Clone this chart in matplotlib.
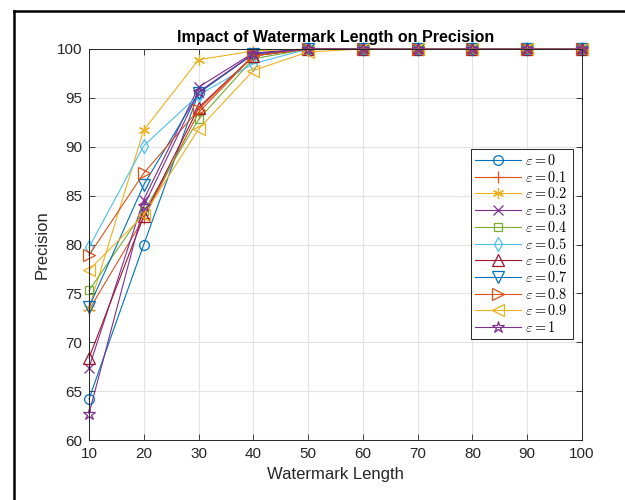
import matplotlib
matplotlib.use("Agg")
import matplotlib.pyplot as plt
from matplotlib.lines import Line2D

plt.rcParams['font.family'] = ['Liberation Sans', 'DejaVu Sans']
plt.rcParams['mathtext.fontset'] = 'cm'

lengths = [10, 20, 30, 40, 50, 60, 70, 80, 90, 100]
eps_labels = ['0', '0.1', '0.2', '0.3', '0.4', '0.5', '0.6', '0.7', '0.8', '0.9', '1']
p_eps0 = [64.2, 80.0, 95.5, 99.5, 100, 100, 100, 100, 100, 100]
p_eps01 = [73.3, 82.7, 93.5, 99.3, 100, 100, 100, 100, 100, 100]
p_eps02 = [73.5, 91.7, 98.9, 99.8, 100, 100, 100, 100, 100, 100]
p_eps03 = [67.4, 84.6, 96.1, 99.6, 100, 100, 100, 100, 100, 100]
p_eps04 = [75.3, 83.4, 92.8, 99.0, 100, 100, 100, 100, 100, 100]
p_eps05 = [79.7, 90.1, 95.3, 98.5, 100, 100, 100, 100, 100, 100]
p_eps06 = [68.4, 82.9, 94.0, 99.3, 100, 100, 100, 100, 100, 100]
p_eps07 = [73.6, 86.1, 95.5, 99.5, 100, 100, 100, 100, 100, 100]
p_eps08 = [78.9, 87.3, 93.8, 99.3, 100, 100, 100, 100, 100, 100]
p_eps09 = [77.4, 83.0, 91.8, 97.8, 99.7, 100, 100, 100, 100, 100]
p_eps1 = [62.7, 83.9, 95.6, 99.5, 100, 100, 100, 100, 100, 100]
series = [p_eps0, p_eps01, p_eps02, p_eps03, p_eps04, p_eps05,
          p_eps06, p_eps07, p_eps08, p_eps09, p_eps1]

colors = ['#0072BD', '#D95319', '#EDB120', '#7E2F8E', '#77AC30', '#4DBEEE',
          '#A2142F', '#0072BD', '#D95319', '#EDB120', '#7E2F8E']
markers = ['o', '+', (6, 2, 0), 'x', 's', 'd', '^', 'v', '>', '<', '*']
msizes = [7, 8, 8, 7, 6, 7, 8, 8, 8, 8, 9]

fig = plt.figure(figsize=(6.25, 5), dpi=100)
ax = fig.add_axes([0.1424, 0.12, 0.7888, 0.782])

for vals, c, m, ms, lab in zip(series, colors, markers, msizes, eps_labels):
    ax.plot(lengths, vals, color=c, marker=m, markersize=ms, linewidth=0.8,
            markerfacecolor='none', markeredgecolor=c, markeredgewidth=0.9,
            label=r'$\varepsilon = %s$' % lab, clip_on=False, zorder=3)

ax.set_xlim(10, 100)
ax.set_ylim(60, 100)
ax.set_xticks(lengths)
ax.set_yticks(range(60, 101, 5))
ax.grid(True, color='#e3e3e3', linewidth=0.8)
ax.set_axisbelow(True)
ax.tick_params(direction='in', top=True, right=True, labelsize=11,
               colors='#262626', length=4, width=0.6)
ax.tick_params(axis='x', pad=5)
ax.tick_params(axis='y', pad=5)
for s in ax.spines.values():
    s.set_color('#262626')
    s.set_linewidth(0.7)
    s.set_zorder(4)

ax.set_title('Impact of Watermark Length on Precision', fontsize=11.5,
             fontweight='bold', pad=5)
ax.set_xlabel('Watermark Length', fontsize=12, color='#262626', labelpad=4)
ax.set_ylabel('Precision', fontsize=12, color='#262626', labelpad=5)

leg = ax.legend(loc='upper left', bbox_to_anchor=(0.775, 0.745), fontsize=10.3,
                fancybox=False, edgecolor='#262626', framealpha=1,
                handlelength=3.2, borderpad=0.3, labelspacing=0.12,
                handletextpad=0.3, borderaxespad=0)
leg.get_frame().set_linewidth(0.7)
leg.set_zorder(5)

# outer frame
fig.add_artist(Line2D([14 / 625, 14 / 625], [0, 1 - 11 / 500], color='black',
                      linewidth=1.8, transform=fig.transFigure))
fig.add_artist(Line2D([14 / 625, 1], [1 - 11 / 500, 1 - 11 / 500], color='black',
                      linewidth=1.8, transform=fig.transFigure))

fig.savefig('out.png', dpi=100)
